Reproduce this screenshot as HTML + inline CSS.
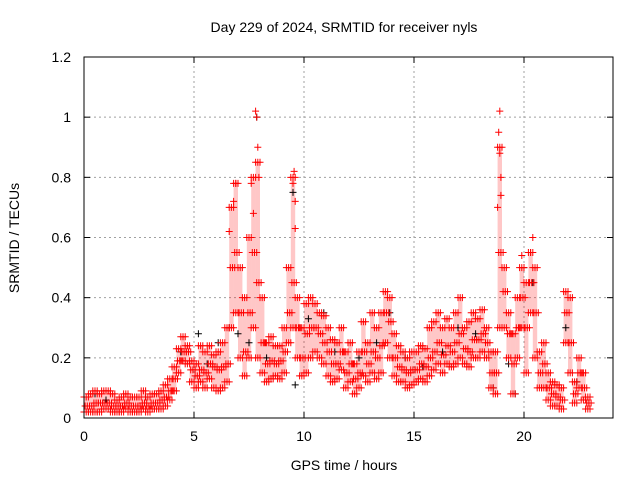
<!DOCTYPE html>
<html><head><meta charset="utf-8"><style>
body{margin:0;background:#fff}
svg{display:block;font-family:"Liberation Sans",sans-serif}
</style></head><body>
<svg id="chart" width="640" height="480">
<rect x="0" y="0" width="640" height="480" fill="#fff"/>
<g id="grid"></g>
<g id="marks"></g>
<rect x="84" y="57" width="529" height="361" fill="none" stroke="#000" stroke-width="1"/>
<g id="ticks"></g>
<text x="344" y="32" text-anchor="middle" font-size="14">Day 229 of 2024, SRMTID for receiver nyls</text>
<text x="344" y="470" text-anchor="middle" font-size="14">GPS time / hours</text>
<text transform="translate(19,238) rotate(-90)" text-anchor="middle" font-size="14">SRMTID / TECUs</text>
</svg>
<script>
const xTicks=[0,5,10,15,20];
const yTicks=[0,0.2,0.4,0.6,0.8,1,1.2];
const yTickLabels=["0","0.2","0.4","0.6","0.8","1","1.2"];
const hours=[0,0.2,0.4,0.6,0.8,1.0,1.2,1.4,1.6,1.8,2.0,2.2,2.4,2.6,2.8,3.0,3.2,3.4,3.6,3.8,4.0,4.2,4.4,4.6,4.8,5.0,5.2,5.4,5.6,5.8,6.0,6.2,6.4,6.6,6.8,7.0,7.2,7.4,7.6,7.8,8.0,8.2,8.4,8.6,8.8,9.0,9.2,9.4,9.6,9.8,10.0,10.2,10.4,10.6,10.8,11.0,11.2,11.4,11.6,11.8,12.0,12.2,12.4,12.6,12.8,13.0,13.2,13.4,13.6,13.8,14.0,14.2,14.4,14.6,14.8,15.0,15.2,15.4,15.6,15.8,16.0,16.2,16.4,16.6,16.8,17.0,17.2,17.4,17.6,17.8,18.0,18.2,18.4,18.6,18.8,19.0,19.2,19.4,19.6,19.8,20.0,20.2,20.4,20.6,20.8,21.0,21.2,21.4,21.6,21.8,22.0,22.2,22.4,22.6,22.8];
const lowVals=[.02,.02,.02,.02,.03,.03,.02,.02,.02,.03,.02,.02,.02,.03,.02,.03,.03,.03,.04,.06,.09,.15,.19,.18,.12,.10,.12,.10,.13,.10,.09,.10,.12,.30,.35,.20,.14,.20,.30,.20,.15,.12,.13,.14,.13,.15,.25,.30,.20,.14,.15,.20,.22,.20,.18,.14,.12,.13,.16,.10,.12,.08,.10,.14,.12,.15,.13,.15,.25,.20,.14,.12,.12,.10,.11,.12,.13,.12,.14,.16,.18,.15,.18,.17,.18,.20,.18,.17,.20,.20,.22,.20,.10,.08,.30,.30,.20,.08,.20,.30,.15,.35,.20,.10,.10,.06,.04,.04,.03,.25,.15,.05,.10,.06,.03];
const midVals=[.04,.04,.05,.05,.05,.05,.04,.04,.04,.05,.04,.04,.04,.05,.04,.05,.05,.06,.07,.09,.13,.19,.22,.22,.16,.14,.16,.15,.18,.17,.16,.17,.18,.50,.55,.35,.22,.35,.55,.45,.25,.18,.19,.18,.19,.22,.35,.45,.30,.20,.28,.30,.30,.28,.25,.22,.18,.18,.22,.15,.18,.13,.15,.22,.18,.22,.20,.24,.35,.32,.20,.17,.16,.15,.16,.16,.18,.17,.20,.22,.25,.21,.24,.22,.25,.28,.23,.22,.26,.26,.28,.25,.15,.15,.55,.42,.28,.18,.30,.40,.30,.45,.35,.15,.18,.10,.08,.07,.06,.35,.25,.08,.15,.10,.05];
const highVals=[.07,.08,.09,.08,.09,.09,.08,.06,.07,.08,.07,.07,.07,.09,.07,.08,.08,.09,.11,.13,.17,.23,.27,.24,.19,.18,.24,.22,.24,.21,.22,.25,.30,.70,.78,.50,.40,.60,.80,.85,.40,.25,.27,.24,.24,.30,.50,.80,.40,.30,.38,.40,.38,.35,.34,.30,.26,.25,.30,.22,.25,.18,.22,.32,.25,.35,.30,.35,.42,.40,.28,.24,.22,.20,.22,.22,.24,.23,.30,.32,.35,.30,.33,.30,.35,.40,.30,.32,.35,.33,.36,.30,.22,.22,.90,.50,.35,.28,.40,.50,.45,.55,.50,.22,.25,.15,.12,.11,.10,.42,.40,.12,.20,.15,.07];
const spikeHours=[7.8,7.85,7.9,7.95,9.55,9.5,9.6,9.6,18.9,18.85,18.9,18.95,18.8,20.4,20.3,19.9,6.9,6.8,7.6,7.7,6.6,18.95];
const spikeVals=[1.02,1.0,0.9,0.8,0.82,0.78,0.72,0.63,1.02,0.95,0.88,0.8,0.7,0.6,0.55,0.54,0.78,0.72,0.78,0.68,0.62,0.74];
const blackHours=[0.5,1.0,2.8,4.4,5.2,5.6,6.1,6.6,7.0,7.5,7.85,8.3,9.5,9.6,10.2,10.9,11.4,12.5,13.3,13.9,14.6,15.4,16.3,17.0,17.8,18.6,19.3,19.6,20.0,20.4,21.0,21.9,22.4];
const blackVals=[0.08,0.06,0.07,0.22,0.28,0.18,0.25,0.30,0.28,0.25,1.0,0.2,0.75,0.11,0.33,0.35,0.22,0.2,0.25,0.35,0.2,0.17,0.22,0.3,0.28,0.1,0.18,0.08,0.5,0.45,0.1,0.3,0.12];

const X0=84,X1=612,Y0=418,Y1=57;
function xs(h){return X0+(X1-X0)*h/24;}
function ys(v){return Y0-(Y0-Y1)*v/1.2;}
const NS="http://www.w3.org/2000/svg";
const grid=document.getElementById('grid'),ticks=document.getElementById('ticks'),marks=document.getElementById('marks');
function mk(tag,attrs,parent){const e=document.createElementNS(NS,tag);for(const k in attrs)e.setAttribute(k,attrs[k]);parent.appendChild(e);return e;}
xTicks.forEach(t=>{
  const x=xs(t);
  if(t>0){const g=mk('line',{x1:x,x2:x,y1:Y0,y2:Y1,stroke:'#a0a0a0','stroke-dasharray':'2,3'},grid);
  
  }
  mk('line',{x1:x,x2:x,y1:Y0,y2:Y0-6,stroke:'#000'},ticks);
  mk('line',{x1:x,x2:x,y1:Y1,y2:Y1+6,stroke:'#000'},ticks);
  const tx=mk('text',{x:x,y:Y0+23,'text-anchor':'middle','font-size':'14'},ticks);
  tx.textContent=t;
  
  
});
yTicks.forEach((t,i)=>{
  const y=ys(t);
  if(i>0&&i<yTicks.length-1){const g=mk('line',{x1:X0,x2:613,y1:y,y2:y,stroke:'#a0a0a0','stroke-dasharray':'2,3'},grid);
  
  }
  mk('line',{x1:X0,x2:X0+6,y1:y,y2:y,stroke:'#000'},ticks);
  mk('line',{x1:613,x2:607,y1:y,y2:y,stroke:'#000'},ticks);
  const tx=mk('text',{x:X0-13,y:y+5,'text-anchor':'end','font-size':'14'},ticks);
  tx.textContent=yTickLabels[i];
  
  
});
function plus(h,v,col,off){
  const x=xs(h)+off,y=ys(v);
  const p=mk('path',{d:`M${x-3.5},${y}h7M${x},${y-3.5}v7`,stroke:col,'stroke-width':'1',fill:'none'},marks);
  
  
}
hours.forEach((h,i)=>{
  const b=mk('rect',{x:xs(h),y:ys(highVals[i]),width:4.4,height:Math.max(1,ys(lowVals[i])-ys(highVals[i])),fill:'#f00','fill-opacity':'0.22'},marks);
  
  
});
blackHours.forEach((h,i)=>plus(h,blackVals[i],'#000',0));
hours.forEach((h,i)=>{
  [0,2.2,4.4].forEach(o=>{
    plus(h,lowVals[i],'#f00',o);
    plus(h,midVals[i],'#f00',o+1.1);
    plus(h,highVals[i],'#f00',o);
  });
});
spikeHours.forEach((h,i)=>plus(h,spikeVals[i],'#f00',0));
</script>
</body></html>
